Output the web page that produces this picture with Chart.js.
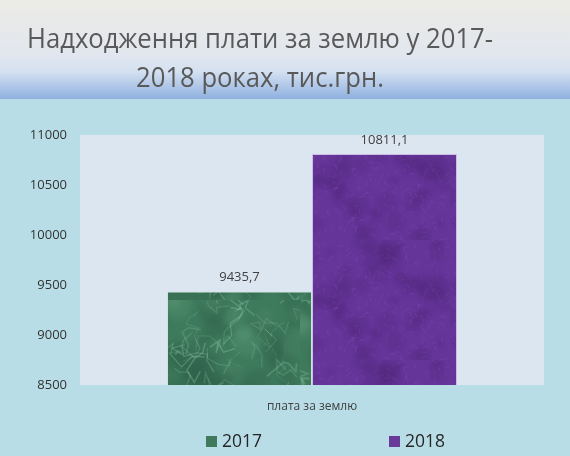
<!DOCTYPE html>
<html lang="uk">
<head>
<meta charset="UTF-8">
<title>Надходження плати за землю</title>
<script src="https://cdn.jsdelivr.net/npm/chart.js"></script>
<style>
  html, body { margin: 0; padding: 0; background: #b8dde6; }
  #wrap { width: 570px; height: 456px; }
</style>
</head>
<body>
<div id="wrap"><canvas id="chart"></canvas></div>

<script>
    // дані з діаграми
    const titleLines = ['Надходження плати за землю у 2017-', '2018 роках, тис.грн.'];
    const categories = ['плата за землю'];
    const years = ['2017', '2018'];
    const values2017 = [9435.7];
    const values2018 = [10811.1];
    const yTicks = [8500, 9000, 9500, 10000, 10500, 11000];

    // псевдо-шум тільки для текстури заливки
    function h(n) {
        const s = Math.sin(n * 12.9898) * 43758.5453;
        return s - Math.floor(s);
    }

    // текстура "мармур" для 2017
    function marble(base, light, dark) {
        const c = document.createElement('canvas');
        c.width = 150; c.height = 100;
        const g = c.getContext('2d');
        g.fillStyle = base;
        g.fillRect(0, 0, 150, 100);
        g.filter = 'blur(3px)';
        for (let i = 0; i < 40; i++) {
            g.fillStyle = i % 3 ? dark : light;
            g.globalAlpha = i % 3 ? 0.18 : 0.12;
            g.beginPath();
            g.arc(h(i) * 150, h(i + 100) * 100, 5 + h(i + 200) * 12, 0, Math.PI * 2);
            g.fill();
        }
        g.filter = 'blur(0.6px)';
        g.strokeStyle = light;
        for (let i = 0; i < 40; i++) {
            g.globalAlpha = 0.12 + h(i + 300) * 0.25;
            g.lineWidth = 0.6 + h(i + 400) * 1.2;
            g.beginPath();
            let x = h(i + 500) * 150, y = h(i + 600) * 100;
            g.moveTo(x, y);
            for (let k = 0; k < 5; k++) {
                x += (h(i * 7 + k) - 0.5) * 26;
                y += (h(i * 11 + k + 50) - 0.5) * 26;
                g.lineTo(x, y);
            }
            g.stroke();
        }
        g.filter = 'none';
        g.globalAlpha = 1;
        return g.createPattern(c, 'repeat');
    }

    // текстура "фетр" для 2018
    function felt(base, light, dark) {
        const c = document.createElement('canvas');
        c.width = 150; c.height = 120;
        const g = c.getContext('2d');
        g.fillStyle = base;
        g.fillRect(0, 0, 150, 120);
        g.filter = 'blur(2px)';
        for (let i = 0; i < 60; i++) {
            g.fillStyle = dark;
            g.globalAlpha = 0.14;
            g.beginPath();
            g.arc(h(i + 700) * 150, h(i + 800) * 120, 3 + h(i + 900) * 8, 0, Math.PI * 2);
            g.fill();
        }
        g.filter = 'none';
        g.strokeStyle = light;
        g.lineWidth = 0.6;
        for (let i = 0; i < 400; i++) {
            const x = h(i + 1000) * 150, y = h(i + 2000) * 120;
            const a = h(i + 3000) * Math.PI * 2;
            g.globalAlpha = 0.12 + h(i + 4000) * 0.22;
            g.beginPath();
            g.moveTo(x, y);
            g.lineTo(x + 5 * Math.cos(a), y + 5 * Math.sin(a));
            g.stroke();
        }
        g.globalAlpha = 1;
        return g.createPattern(c, 'repeat');
    }

    const ctx = document.getElementById('chart');
    const greenFill = marble('#3e7a5c', '#8fcaa8', '#1f4a35');
    const purpleFill = felt('#65359a', '#9a6acb', '#3f1d5c');
    const legendColors = ['#3f7a5d', '#6a3a9a'];

    const fon = {
        id: 'fon',
        beforeDraw(chart) {
            const c = chart.ctx;
            const w = chart.width;
            c.save();
            c.fillStyle = '#b8dde6';
            c.fillRect(0, 0, w, chart.height);
            let grad = c.createLinearGradient(0, 0, 0, 99);
            grad.addColorStop(0, '#ecece6');
            grad.addColorStop(0.55, '#e2e6ee');
            grad.addColorStop(0.72, '#d5e1f1');
            grad.addColorStop(1, '#8fb0e0');
            c.fillStyle = grad;
            c.fillRect(0, 0, w, 99);
            const a = chart.chartArea;
            c.fillStyle = '#dce6f1';
            c.fillRect(a.left, a.top, a.right - a.left, a.bottom - a.top);
            c.restore();
        },
        afterDraw(chart) {
            const c = chart.ctx;
            c.save();
            // заголовок (стиснутий по ширині, як Calibri)
            c.fillStyle = '#595959';
            c.font = '28px "Open Sans"';
            c.textAlign = 'center';
            c.textBaseline = 'alphabetic';
            const k = 466 / c.measureText(titleLines[0]).width;
            c.translate(260, 0);
            c.scale(k, 1);
            c.fillText(titleLines[0], 0, 48);
            c.fillText(titleLines[1], 0, 87);
            c.setTransform(chart.currentDevicePixelRatio, 0, 0, chart.currentDevicePixelRatio, 0, 0);
            // легенда
            c.font = '18px "Open Sans"';
            c.textAlign = 'left';
            c.textBaseline = 'middle';
            const xs = [206, 389];
            chart.data.datasets.forEach((ds, i) => {
                c.fillStyle = legendColors[i];
                c.fillRect(xs[i], 436, 11, 11);
                c.fillStyle = '#262626';
                c.fillText(ds.label, xs[i] + 16, 442, 40);
            });
            c.restore();
        },
        afterDatasetsDraw(chart) {
            const c = chart.ctx;
            c.save();
            c.fillStyle = '#404040';
            c.font = '13px "Open Sans"';
            c.textAlign = 'center';
            c.textBaseline = 'alphabetic';
            chart.data.datasets.forEach((ds, i) => {
                chart.getDatasetMeta(i).data.forEach((bar, j) => {
                    c.fillText(String(ds.data[j]).replace('.', ','), bar.x, bar.y - 10);
                });
            });
            c.restore();
        }
    };

    new Chart(ctx, {
        type: 'bar',
        data: {
            labels: categories,
            datasets: [{
                label: years[0],
                data: values2017,
                backgroundColor: greenFill,
                borderColor: 'rgba(190,225,205,0.55)',
                borderWidth: 1,
                categoryPercentage: 0.625,
                barPercentage: 1
            }, {
                label: years[1],
                data: values2018,
                backgroundColor: purpleFill,
                borderColor: 'rgba(200,170,225,0.7)',
                borderWidth: 1,
                categoryPercentage: 0.625,
                barPercentage: 1
            }]
        },
        options: {
            responsive: true,
            maintainAspectRatio: false,
            animation: false,
            layout: { padding: { top: 135, right: 26, bottom: 41, left: 0 } },
            plugins: {
                legend: { display: false },
                tooltip: { enabled: false }
            },
            scales: {
                x: {
                    grid: { display: false, drawTicks: false },
                    border: { display: false },
                    ticks: { color: '#404040', font: { family: 'Open Sans', size: 12 }, padding: 14 },
                    afterFit: s => { s.height = 30; }
                },
                y: {
                    min: yTicks[0],
                    max: yTicks[yTicks.length - 1],
                    grid: { display: false, drawTicks: false },
                    border: { display: false },
                    afterBuildTicks: s => { s.ticks = yTicks.map(v => ({ value: v })); },
                    ticks: {
                        color: '#333333',
                        font: { family: 'Open Sans', size: 13 },
                        padding: 13,
                        callback: v => String(v)
                    },
                    afterFit: s => { s.width = 80; }
                }
            }
        },
        plugins: [fon]
    });
</script>
</body>
</html>
